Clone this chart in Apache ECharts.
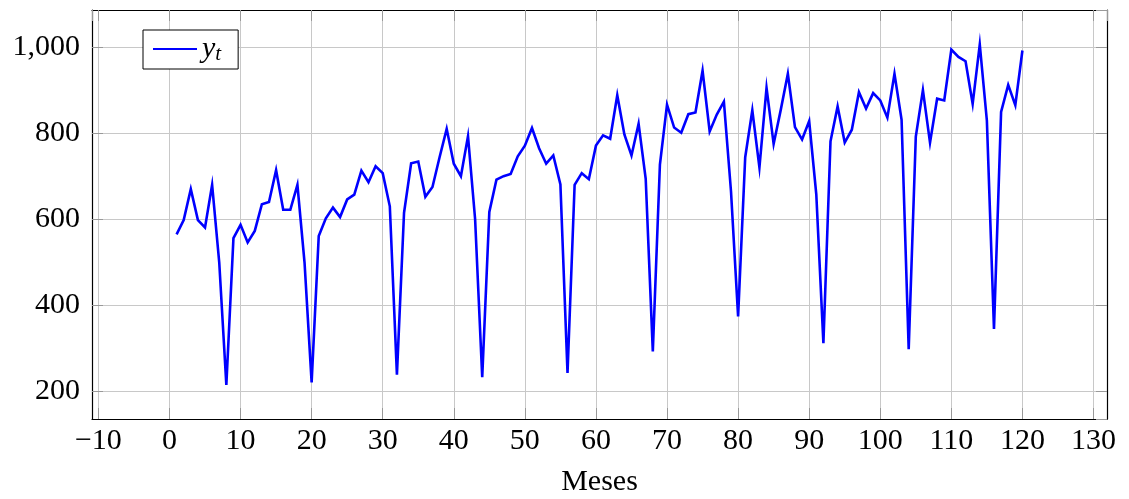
<!DOCTYPE html>
<html>
<head>
<meta charset="utf-8">
<script src="https://cdn.jsdelivr.net/npm/echarts@6/dist/echarts.min.js"></script>
<style>
html,body{margin:0;padding:0;background:#fff;}
#chart{width:1129px;height:499px;}
</style>
</head>
<body>
<div id="chart"></div>
<script>
const months = [];
for (let m = 1; m <= 120; m++) months.push(m);
const values = [
  565, 598, 670, 598, 581, 680, 500, 215, 556, 587,
  546, 573, 635, 640, 714, 622, 622, 680, 500, 221,
  561, 602, 627, 605, 646, 657, 713, 686, 723, 707,
  630, 239, 615, 730, 734, 652, 675, 744, 810, 729,
  700, 793, 600, 233, 617, 692, 700, 705, 746, 771,
  812, 765, 729, 748, 681, 243, 680, 707, 693, 771,
  795, 787, 888, 797, 748, 822, 694, 293, 727, 866,
  813, 801, 844, 848, 945, 804, 843, 873, 665, 374,
  744, 853, 720, 905, 775, 854, 938, 814, 785, 828,
  658, 312, 781, 862, 778, 808, 895, 857, 893, 876,
  836, 938, 831, 298, 792, 900, 778, 880, 876, 994,
  977, 967, 868, 1006, 829, 345, 849, 912, 865, 992
];
const seriesName = 'y_t';
const xAxisTitle = 'Meses';

const font = 'Liberation Serif, DejaVu Serif, serif';
const fs = 30;
const chart = echarts.init(document.getElementById('chart'));
const tickStyle = {show: true, inside: true, length: 11, lineStyle: {color: '#999', width: 1}};
const frame = {show: true, onZero: false, lineStyle: {color: '#000', width: 1.2}};
chart.setOption({
  animation: false,
  backgroundColor: '#fff',
  grid: {left: 92, right: 22, top: 10, bottom: 80, containLabel: false, outerBoundsMode: 'none'},
  legend: {
    left: 143, top: 30,
    orient: 'horizontal',
    backgroundColor: '#fff',
    borderColor: '#000', borderWidth: 1, borderRadius: 0,
    padding: [4, 17, 4, 10],
    itemWidth: 44, itemHeight: 14, itemGap: 6,
    data: [{name: seriesName, icon: 'path://M0,6 L44,6 L44,8 L0,8 Z'}],
    formatter: function () { return '{i|y}{s|t}'; },
    textStyle: {
      rich: {
        i: {fontFamily: font, fontStyle: 'italic', fontSize: 30, lineHeight: 32, color: '#000'},
        s: {fontFamily: font, fontStyle: 'italic', fontSize: 21, lineHeight: 22, color: '#000', verticalAlign: 'bottom', padding: [10, 0, 0, 0]}
      }
    }
  },
  xAxis: [{
    type: 'value', min: -10.9, max: 131.9, splitNumber: 14,
    position: 'bottom',
    axisLine: frame, axisTick: tickStyle,
    splitLine: {show: true, lineStyle: {color: '#c8c8c8', width: 1}},
    axisLabel: {
      show: true, showMinLabel: false, showMaxLabel: false,
      fontFamily: font, fontSize: fs, color: '#000', margin: 7,
      formatter: v => String(v).replace('-', '\u2212')
    },
    name: xAxisTitle, nameLocation: 'middle', nameGap: 48,
    nameTextStyle: {fontFamily: font, fontSize: fs, color: '#000'}
  }, {
    type: 'value', min: -10.9, max: 131.9, splitNumber: 14,
    position: 'top',
    axisLine: frame, axisTick: tickStyle,
    splitLine: {show: false}, axisLabel: {show: false}
  }],
  yAxis: [{
    type: 'value', min: 136, max: 1086, splitNumber: 5,
    position: 'left',
    axisLine: frame, axisTick: tickStyle,
    splitLine: {show: true, lineStyle: {color: '#c8c8c8', width: 1}},
    axisLabel: {
      show: true, showMinLabel: false, showMaxLabel: false,
      fontFamily: font, fontSize: fs, color: '#000', margin: 12,
      formatter: v => v.toLocaleString('en-US')
    }
  }, {
    type: 'value', min: 136, max: 1086, splitNumber: 5,
    position: 'right',
    axisLine: frame, axisTick: tickStyle,
    splitLine: {show: false}, axisLabel: {show: false}
  }],
  series: [{
    name: seriesName,
    type: 'line',
    xAxisIndex: 0, yAxisIndex: 0,
    data: months.map((m, i) => [m, values[i]]),
    symbol: 'none', showSymbol: false,
    lineStyle: {color: '#0000ff', width: 2.6, join: 'miter'},
    itemStyle: {color: '#0000ff'}
  }]
});
</script>
</body>
</html>
